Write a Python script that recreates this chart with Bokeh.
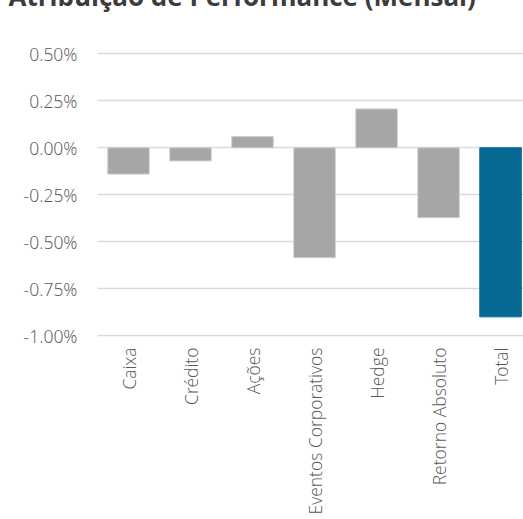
import math
from bokeh.plotting import figure
from bokeh.models import ColumnDataSource, FixedTicker, Title
from bokeh.embed import file_html
from bokeh.resources import INLINE

categories = ["Caixa", "Crédito", "Ações", "Eventos Corporativos", "Hedge", "Retorno Absoluto", "Total"]
values = [-0.14, -0.07, 0.06, -0.585, 0.207, -0.372, -0.90]
tick_values = [-1.0, -0.75, -0.5, -0.25, 0.0, 0.25, 0.5]
tick_labels = ["-1.00%", "-0.75%", "-0.50%", "-0.25%", "0.00%", "0.25%", "0.50%"]
title_text = "Atribuição de Performance (Mensal)"

GRAY = "#a6a6a6"
BLUE = "#076a94"

xs = list(range(len(categories)))
colors = [BLUE if c == "Total" else GRAY for c in categories]
lines = [BLUE if c == "Total" else "#cfcfcf" for c in categories]
src = ColumnDataSource(dict(x=xs, top=values, color=colors, line=lines, cat=categories))

p = figure(width=523, height=519, output_backend="svg", toolbar_location=None,
           x_range=(-0.5, 6.37), y_range=(-1.01, 0.55),
           min_border_left=97, min_border_right=0, min_border_top=44, min_border_bottom=182)
p.outline_line_color = None
p.background_fill_color = "white"
p.border_fill_color = "white"

# title: mostly above the window edge, as in the reference
p.title = Title(text=title_text, text_font="Open Sans", text_font_style="bold",
                text_font_size="26px", text_color="#3c3c3c", align="left",
                vertical_align="top", offset=-89, standoff=-134)

p.vbar(x="x", top="top", bottom=0, width=0.67, fill_color="color", line_color="line",
       line_width=1, source=src)

FONT = "Open Sans Light"

p.yaxis.ticker = FixedTicker(ticks=tick_values)
p.yaxis.major_label_overrides = {v: l for v, l in zip(tick_values, tick_labels)}
p.yaxis.axis_line_color = None
p.yaxis.major_tick_line_color = None
p.yaxis.minor_tick_line_color = None
p.yaxis.major_tick_out = 0
p.yaxis.major_label_standoff = 20
p.yaxis.major_label_text_font = FONT
p.yaxis.major_label_text_font_size = "17.5px"
p.yaxis.major_label_text_color = "#595959"

p.xaxis.ticker = FixedTicker(ticks=xs)
p.xaxis.major_label_overrides = {i: c for i, c in zip(xs, categories)}
p.xaxis.major_label_orientation = math.pi / 2
p.xaxis.axis_line_color = None
p.xaxis.major_tick_line_color = None
p.xaxis.minor_tick_line_color = None
p.xaxis.major_tick_out = 0
p.xaxis.major_label_standoff = 10
p.xaxis.major_label_text_font = FONT
p.xaxis.major_label_text_font_size = "17.5px"
p.xaxis.major_label_text_color = "#595959"

p.xgrid.grid_line_color = None
p.ygrid.ticker = FixedTicker(ticks=tick_values)
p.ygrid.grid_line_color = "#dadada"
p.ygrid.grid_line_width = 1.3

open("out.html", "w").write(file_html(p, INLINE))
